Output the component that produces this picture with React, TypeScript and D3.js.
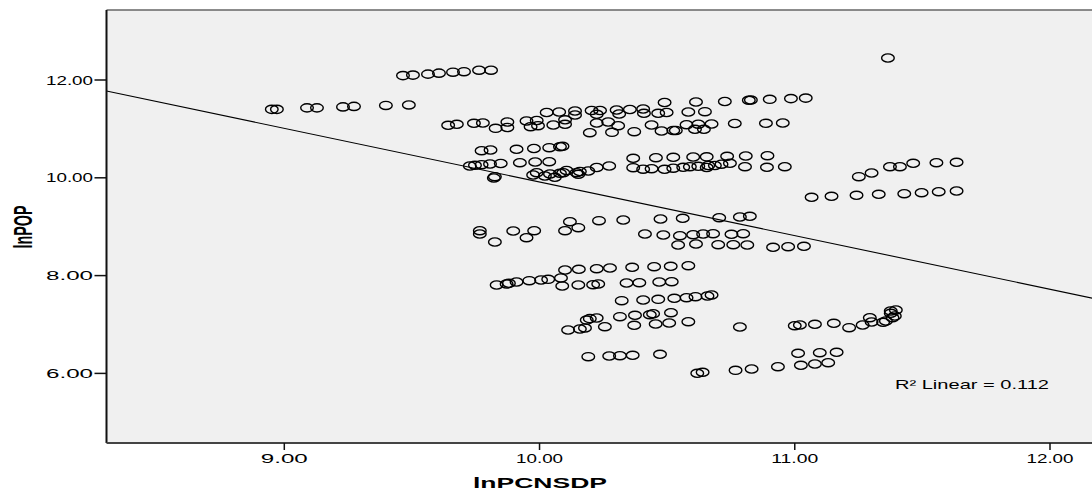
import React from "react";
import * as d3 from "d3";

type P = [number, number];

const xTicks = [9, 10, 11, 12];
const yTicks = [6, 8, 10, 12];
const xTitle = "lnPCNSDP";
const yTitle = "lnPOP";
const r2Label = "R\u00B2 Linear = 0.112";
const fitIntercept = 20.885;
const fitSlope = -1.097;

const rowTop12: P[] = [[9.465,12.09],[9.504,12.10],[9.563,12.12],[9.606,12.14],[9.661,12.16],[9.704,12.17],[9.763,12.20],[9.810,12.20]];
const rowLeft114: P[] = [[8.951,11.40],[8.971,11.40],[9.089,11.43],[9.128,11.43],[9.230,11.45],[9.273,11.46],[9.398,11.48],[9.488,11.49]];
const outliers: P[] = [[11.365,12.45]];
const row116: P[] = [[10.49,11.54],[10.613,11.55],[10.726,11.56],[10.82,11.585],[10.828,11.59],[10.902,11.605],[10.985,11.62],[11.043,11.63]];
const row113: P[] = [[10.028,11.335],[10.077,11.346],[10.139,11.366],[10.139,11.284],[10.204,11.376],[10.237,11.376],[10.224,11.299],[10.302,11.387],[10.312,11.305],[10.354,11.397],[10.406,11.407],[10.409,11.319],[10.465,11.319],[10.498,11.335],[10.583,11.346],[10.648,11.352]];
const row111: P[] = [[9.642,11.074],[9.676,11.094],[9.743,11.115],[9.778,11.121],[9.828,11.012],[9.874,11.141],[9.874,11.029],[9.949,11.162],[9.965,11.045],[9.989,11.172],[9.994,11.065],[10.054,11.08],[10.10,11.186],[10.10,11.094],[10.197,10.922],[10.224,11.121],[10.269,11.141],[10.284,10.93],[10.308,11.065],[10.371,10.943],[10.439,11.08],[10.478,10.957],[10.524,10.967],[10.534,10.967],[10.576,11.086],[10.622,11.096],[10.609,10.992],[10.644,10.992],[10.674,11.10],[10.765,11.11],[10.887,11.115],[10.953,11.121]];
const row106: P[] = [[9.773,10.554],[9.808,10.569],[9.910,10.583],[9.978,10.599],[10.038,10.616],[10.08,10.636],[10.09,10.644]];
const row103: P[] = [[9.727,10.241],[9.747,10.256],[9.773,10.268],[9.806,10.282],[9.848,10.292],[9.923,10.309],[9.983,10.323],[10.038,10.329]];
const row104: P[] = [[10.367,10.399],[10.456,10.411],[10.524,10.419],[10.602,10.425],[10.655,10.429],[10.735,10.44],[10.808,10.446],[10.893,10.452]];
const row102: P[] = [[9.825,10.023],[9.821,9.996],[9.975,10.057],[9.989,10.104],[10.021,10.037],[10.041,10.078],[10.06,10.01],[10.08,10.092],[10.093,10.104],[10.106,10.149],[10.145,10.104],[10.152,10.072],[10.158,10.129],[10.191,10.139],[10.224,10.211],[10.273,10.241],[10.367,10.207],[10.406,10.176],[10.439,10.186],[10.49,10.174],[10.524,10.196],[10.563,10.215],[10.589,10.227],[10.622,10.235],[10.655,10.211],[10.661,10.252],[10.687,10.252],[10.713,10.278],[10.746,10.297],[10.805,10.227],[10.891,10.215],[10.961,10.227]];
const rightRow102: P[] = [[11.251,10.023],[11.301,10.098],[11.373,10.227],[11.412,10.227],[11.464,10.297],[11.555,10.309],[11.634,10.317]];
const row97: P[] = [[11.066,9.601],[11.144,9.622],[11.242,9.642],[11.329,9.663],[11.429,9.675],[11.497,9.695],[11.564,9.716],[11.634,9.73]];
const row92: P[] = [[10.119,9.102],[10.233,9.123],[10.328,9.137],[10.474,9.157],[10.561,9.172],[10.704,9.184],[10.785,9.198],[10.824,9.213]];
const row89: P[] = [[10.10,8.918],[10.152,8.98],[9.766,8.918],[9.766,8.851],[9.825,8.687],[9.897,8.912],[9.979,8.918],[9.949,8.775]];
const row885: P[] = [[10.413,8.851],[10.485,8.83],[10.55,8.816],[10.602,8.836],[10.641,8.851],[10.68,8.857],[10.752,8.845],[10.798,8.857]];
const row86: P[] = [[10.543,8.626],[10.613,8.646],[10.70,8.632],[10.759,8.632],[10.814,8.626],[10.915,8.579],[10.974,8.591],[11.036,8.599]];
const row815: P[] = [[10.10,8.115],[10.154,8.129],[10.224,8.141],[10.276,8.155],[10.363,8.17],[10.449,8.182],[10.514,8.19],[10.583,8.202]];
const row785: P[] = [[9.832,7.808],[9.871,7.828],[9.88,7.843],[9.91,7.869],[9.96,7.896],[10.006,7.91],[10.034,7.924],[10.084,7.951],[10.089,7.787],[10.152,7.808],[10.21,7.814],[10.23,7.828],[10.341,7.849],[10.391,7.855],[10.469,7.869],[10.518,7.875]];
const row75: P[] = [[10.322,7.487],[10.406,7.501],[10.465,7.515],[10.528,7.536],[10.576,7.548],[10.611,7.569],[10.658,7.583],[10.674,7.603]];
const row72: P[] = [[10.185,7.09],[10.197,7.12],[10.224,7.133],[10.315,7.16],[10.374,7.188],[10.432,7.20],[10.445,7.221],[10.515,7.241]];
const row695: P[] = [[10.112,6.888],[10.158,6.908],[10.178,6.928],[10.256,6.955],[10.371,6.984],[10.455,7.01],[10.508,7.031],[10.583,7.057],[10.785,6.949]];
const rightRow70: P[] = [[11.00,6.975],[11.02,6.99],[11.079,7.004],[11.153,7.025],[11.213,6.935],[11.266,6.99],[11.294,7.139],[11.301,7.051],[11.346,7.045],[11.357,7.072],[11.376,7.229],[11.383,7.139],[11.396,7.297],[11.376,7.276],[11.392,7.174]];
const row635: P[] = [[10.191,6.342],[10.273,6.356],[10.315,6.362],[10.365,6.37],[10.472,6.391],[11.013,6.411],[11.098,6.423],[11.164,6.432]];
const row605: P[] = [[10.618,6.002],[10.639,6.023],[10.768,6.063],[10.831,6.09],[10.934,6.137],[11.024,6.166],[11.079,6.192],[11.131,6.219]];

const allPoints: P[] = [
  ...rowTop12, ...rowLeft114, ...outliers, ...row116, ...row113, ...row111,
  ...row106, ...row103, ...row104, ...row102, ...rightRow102, ...row97,
  ...row92, ...row89, ...row885, ...row86, ...row815, ...row785, ...row75,
  ...row72, ...row695, ...rightRow70, ...row635, ...row605,
];

const W = 1092;
const H = 492;
const FONT = "'Liberation Sans', Arial, sans-serif";

export default function App() {
  const left = 106.5, right = W + 2, top = 10, bottom = 443;
  const x = d3.scaleLinear().domain([9, 12]).range([284.3, 1050]);
  const y = d3.scaleLinear().domain([6, 12]).range([373.4, 80]);
  const x0 = x.invert(left);
  const x1 = x.invert(right);
  const fit: P[] = [[x0, fitIntercept + fitSlope * x0], [x1, fitIntercept + fitSlope * x1]];
  const line = d3.line<P>().x(d => x(d[0])).y(d => y(d[1]));

  return (
    <div style={{ position: "fixed", left: 0, top: 0, width: W, height: H, background: "#fff" }}>
      <svg width={W} height={H} style={{ display: "block" }}>
        <rect x={left} y={top} width={right - left} height={bottom - top} fill="#F0F0F0" />
        <line x1={left} x2={right} y1={top} y2={top} stroke="#666" strokeWidth={1.5} />
        <path d={line(fit) || ""} fill="none" stroke="#000" strokeWidth={1.1} />
        <g fill="none" stroke="#000" strokeWidth={1.4}>
          {allPoints.map((d, i) => (
            <ellipse key={i} cx={x(d[0])} cy={y(d[1])} rx={6.3} ry={4.1} />
          ))}
        </g>
        <line x1={left} x2={left} y1={top} y2={bottom} stroke="#111" strokeWidth={2} />
        <line x1={left} x2={right} y1={bottom} y2={bottom} stroke="#444" strokeWidth={2} />
        {yTicks.map(t => (
          <g key={"y" + t}>
            <line x1={left - 12} x2={left} y1={y(t)} y2={y(t)} stroke="#111" strokeWidth={1.5} />
            <text x={93} y={y(t) + 4.5} textAnchor="end" fontFamily={FONT} fontSize={12.5}
              textLength={47} lengthAdjust="spacingAndGlyphs" fill="#000">{t.toFixed(2)}</text>
          </g>
        ))}
        {xTicks.map(t => (
          <g key={"x" + t}>
            <line x1={x(t)} x2={x(t)} y1={bottom} y2={bottom + 7} stroke="#111" strokeWidth={1.5} />
            <text x={x(t)} y={463} textAnchor="middle" fontFamily={FONT} fontSize={12.5}
              textLength={47} lengthAdjust="spacingAndGlyphs" fill="#000">{t.toFixed(2)}</text>
          </g>
        ))}
        <text x={540} y={488} textAnchor="middle" fontFamily={FONT} fontSize={15} fontWeight="bold"
          textLength={134} lengthAdjust="spacingAndGlyphs" fill="#000">{xTitle}</text>
        <g transform="translate(32,227) scale(1.8,1) rotate(-90)">
          <text x={0} y={0} textAnchor="middle" fontFamily={FONT} fontSize={14.5} fontWeight="bold"
            textLength={43} lengthAdjust="spacingAndGlyphs" fill="#000">{yTitle}</text>
        </g>
        <text x={895} y={389} fontFamily={FONT} fontSize={13} textLength={154}
          lengthAdjust="spacingAndGlyphs" fill="#000">{r2Label}</text>
      </svg>
    </div>
  );
}
